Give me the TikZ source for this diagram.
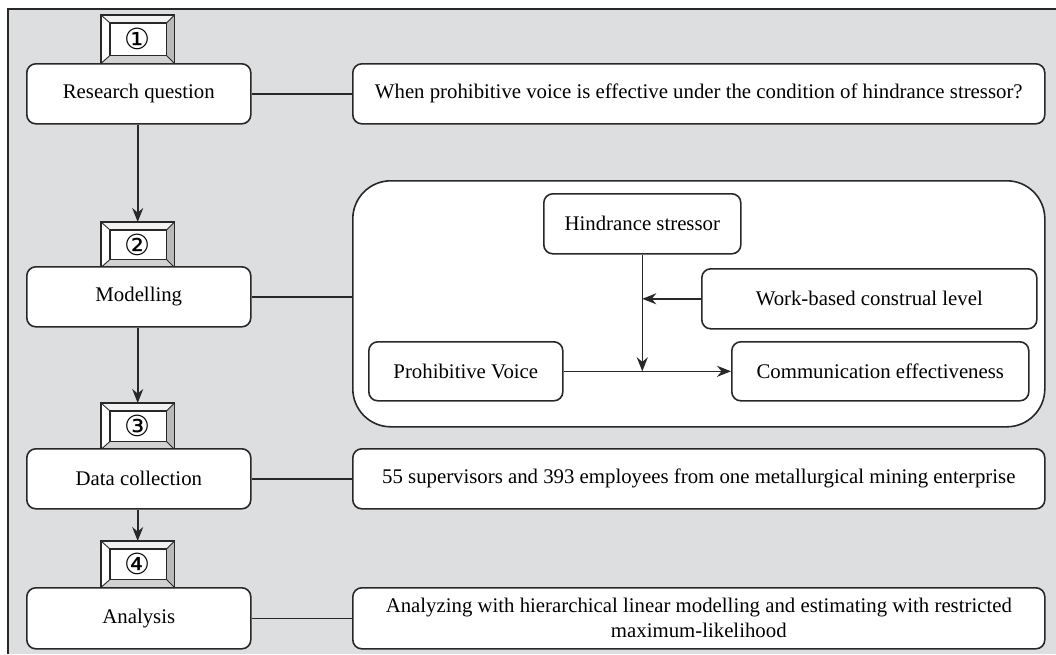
\documentclass[tikz,border=0pt]{standalone}
\usepackage{fontspec}
\setmainfont{Liberation Serif}
\newfontfamily\symfont{DejaVu Sans}
\usetikzlibrary{arrows.meta,calc}
\definecolor{bggray}{RGB}{221,222,224}
\definecolor{linec}{RGB}{40,40,40}
\tikzset{
  box/.style={draw=linec, line width=1.6pt, rounded corners=9pt, fill=white, anchor=north west, inner sep=0pt, align=center, font=\fontsize{20.8}{25}\selectfont},
  badge/.style={draw=linec, line width=1.4pt, fill=white, anchor=north west, inner sep=0pt, minimum width=72pt},
  num/.style={font=\symfont\fontsize{29}{29}\selectfont, inner sep=0pt},
  conn/.style={draw=linec, line width=1.6pt},
  arr/.style={draw=linec, line width=1.6pt, -{Stealth[length=14pt,width=11pt]}}
}
\newcommand{\bevel}[1]{%
  \coordinate (#1-a) at ($(#1.north west)+(9,8)$);
  \coordinate (#1-b) at ($(#1.north east)+(-8,8)$);
  \coordinate (#1-c) at ($(#1.south east)+(-8,-8)$);
  \coordinate (#1-d) at ($(#1.south west)+(9,-8)$);
  \fill[gray!10] (#1.north west) -- (#1.north east) -- (#1-b) -- (#1-a) -- cycle;
  \fill[white] (#1.north west) -- (#1-a) -- (#1-d) -- (#1.south west) -- cycle;
  \fill[gray!55] (#1.north east) -- (#1.south east) -- (#1-c) -- (#1-b) -- cycle;
  \fill[gray!35] (#1.south west) -- (#1.south east) -- (#1-c) -- (#1-d) -- cycle;
  \draw[linec, line width=1.5pt] (#1-a) rectangle (#1-c);
  \draw[linec, line width=0.9pt] (#1.north west) -- (#1-a) (#1.north east) -- (#1-b) (#1.south east) -- (#1-c) (#1.south west) -- (#1-d);
  \draw[linec, line width=1.4pt] (#1.north west) rectangle (#1.south east);
}
\begin{document}
\begin{tikzpicture}[x=1pt,y=-1pt]
\useasboundingbox (0,0) rectangle (1056,654);
\fill[white] (0,0) rectangle (1056,654);
\fill[bggray] (8,9) rectangle (1056,654);
\draw[linec, line width=1.4pt] (8,654) -- (8,9) -- (1056,9);

% badges
\node[badge, minimum height=47pt] (b1) at (101,15) {};
\bevel{b1}
\node[num] (n1) at (b1.center) {①};
\node[badge, minimum height=44pt] (b2) at (101,222) {};
\bevel{b2}
\node[num] (n2) at (b2.center) {②};
\node[badge, minimum height=45pt] (b3) at (101,403) {};
\bevel{b3}
\node[num] (n3) at (b3.center) {③};
\node[badge, minimum height=45pt] (b4) at (101,541) {};
\bevel{b4}
\node[num] (n4) at (b4.center) {④};

% left column boxes
\node[box, minimum width=224pt, minimum height=60pt] (rq) at (26,63) {Research question};
\node[box, minimum width=224pt, minimum height=60pt] (mod) at (26,266) {Modelling};
\node[box, minimum width=224pt, minimum height=60pt] (dc) at (26,448) {Data collection};
\node[box, minimum width=224pt, minimum height=61pt] (an) at (26,587) {Analysis};

% right column boxes
\node[box, minimum width=692pt, minimum height=60pt] (rqd) at (352,63) {When prohibitive voice is effective under the condition of hindrance stressor?};
\node[box, rounded corners=38pt, minimum width=692pt, minimum height=246pt] (big) at (352,180) {};
\node[box, minimum width=692pt, minimum height=60pt] (dcd) at (352,448) {55 supervisors and 393 employees from one metallurgical mining enterprise};
\node[box, minimum width=692pt, minimum height=61pt] (and) at (352,587) {Analyzing with hierarchical linear modelling and estimating with restricted\\maximum-likelihood};

% model boxes
\node[box, minimum width=197pt, minimum height=60pt] (hs) at (543,193) {Hindrance stressor};
\node[box, minimum width=335pt, minimum height=60pt] (wc) at (701,268) {Work-based construal level};
\node[box, minimum width=194pt, minimum height=59pt] (pv) at (368,341) {Prohibitive Voice};
\node[box, minimum width=297pt, minimum height=59pt] (ce) at (731,341) {Communication effectiveness};

% connectors
\draw[conn] (rq.east) -- (rqd.west);
\draw[conn] (mod.east) -- (mod.east -| big.west);
\draw[conn] (dc.east) -- (dcd.west);
\draw[conn] (an.east) -- (and.west);

\draw[arr] (rq.south -| b2.north) -- (b2.north);
\draw[arr] (mod.south -| b3.north) -- (b3.north);
\draw[arr] (dc.south -| b4.north) -- (b4.north);

\coordinate (mid) at (hs.south |- pv.east);
\coordinate (wcm) at (hs.south |- wc.west);
\draw[arr] (pv.east) -- (ce.west);
\draw[arr] (hs.south) -- (mid);
\draw[arr] (wc.west) -- (wcm);
\end{tikzpicture}
\end{document}
